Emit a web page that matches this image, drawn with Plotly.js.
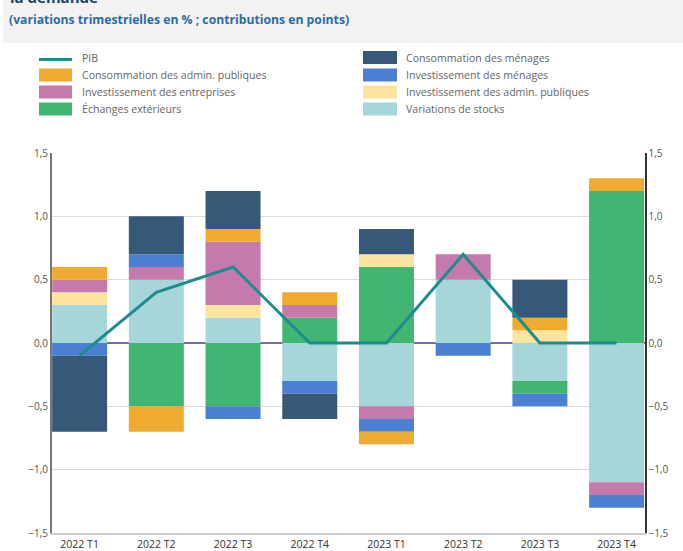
<!DOCTYPE html>
<html>
<head>
<meta charset="utf-8">
<script src="https://cdn.plot.ly/plotly-3.0.1.min.js"></script>
<style>html,body{margin:0;padding:0;background:#fff;}#chart{width:683px;height:551px;}</style>
</head>
<body>
<div id="chart"></div>
<script>
const quarters = ['2022 T1','2022 T2','2022 T3','2022 T4','2023 T1','2023 T2','2023 T3','2023 T4'];
const pib        = [-0.1, 0.4, 0.6, 0.0, 0.0, 0.7, 0.0, 0.0];
const stocks     = [0.3, 0.5, 0.2, -0.3, -0.5, 0.5, -0.3, -1.1];
const echanges   = [0.0, -0.5, -0.5, 0.2, 0.6, 0.0, -0.1, 1.2];
const invAdmin   = [0.1, 0.0, 0.1, 0.0, 0.1, 0.0, 0.1, 0.0];
const invEntr    = [0.1, 0.1, 0.5, 0.1, -0.1, 0.2, 0.0, -0.1];
const invMen     = [-0.1, 0.1, -0.1, -0.1, -0.1, -0.1, -0.1, -0.1];
const consoAdmin = [0.1, -0.2, 0.1, 0.1, -0.1, 0.0, 0.1, 0.1];
const consoMen   = [-0.6, 0.3, 0.3, -0.2, 0.2, 0.0, 0.3, 0.0];
const yTicks = [-1.5, -1.0, -0.5, 0.0, 0.5, 1.0, 1.5];

const font = '"Open Sans", "DejaVu Sans", sans-serif';
function bar(name, y, color) {
  return {type:'bar', name:name, x:quarters, y:y, marker:{color:color, line:{width:0}}, hoverinfo:'skip'};
}
const traces = [
  bar('Variations de stocks', stocks, '#a7d6da'),
  bar('Échanges extérieurs', echanges, '#41b572'),
  bar('Investissement des admin. publiques', invAdmin, '#fce3a0'),
  bar('Investissement des entreprises', invEntr, '#c679ad'),
  bar('Investissement des ménages', invMen, '#4b7fd2'),
  bar('Consommation des admin. publiques', consoAdmin, '#efab30'),
  bar('Consommation des ménages', consoMen, '#36597a'),
  {type:'scatter', mode:'lines', name:'PIB', x:quarters, y:pib, yaxis:'y2',
   line:{color:'#1f8b8c', width:3}, hoverinfo:'skip'}
];

const W = 593, H = 380, L = 52, T = 153;
const px = v => (v - L) / W;
const py = v => (T + H - v) / H;

// legend layout (two columns, row order as in the reference)
const legendOrder = [
  ['PIB', 'Consommation des admin. publiques', 'Investissement des entreprises', 'Échanges extérieurs'],
  ['Consommation des ménages', 'Investissement des ménages', 'Investissement des admin. publiques', 'Variations de stocks']
];
const colX = [[39, 72, 81], [363, 397, 405]];
const rowY = [57.5, 75, 92, 109];

const shapes = [
  {type:'rect', xref:'paper', yref:'paper', x0:px(3), x1:px(690), y0:py(43), y1:py(-10),
   fillcolor:'#f2f2f2', line:{width:0}, layer:'below'}
];
const annotations = [
  {xref:'paper', yref:'paper', x:px(8), y:py(-3), xanchor:'left', yanchor:'middle', showarrow:false,
   text:'<b>la demande</b>', font:{size:15, color:'#1d3f6e', family:font}},
  {xref:'paper', yref:'paper', x:px(7), y:py(20), xanchor:'left', yanchor:'middle', showarrow:false,
   text:'<b>(variations trimestrielles en % ; contributions en points)</b>',
   font:{size:12.2, color:'#2d6ca3', family:font}}
];
legendOrder.forEach((col, ci) => {
  col.forEach((name, ri) => {
    const tr = traces.find(t => t.name === name);
    const [x0, x1, tx] = colX[ci];
    const yc = rowY[ri];
    if (tr.type === 'scatter') {
      shapes.push({type:'line', xref:'paper', yref:'paper', x0:px(x0), x1:px(x1), y0:py(yc + 2), y1:py(yc + 2),
                   line:{color:tr.line.color, width:3}});
    } else {
      shapes.push({type:'rect', xref:'paper', yref:'paper', x0:px(x0), x1:px(x1), y0:py(yc + 6.5), y1:py(yc - 6.5),
                   fillcolor:tr.marker.color, line:{width:0}});
    }
    annotations.push({xref:'paper', yref:'paper', x:px(tx - 1), y:py(yc), xanchor:'left', yanchor:'middle',
                      showarrow:false, text:name, font:{size:10.6, color:'#666', family:font}});
  });
});

const layout = {
  width:683, height:551,
  margin:{l:52, r:38, t:153, b:18},
  paper_bgcolor:'#ffffff', plot_bgcolor:'#ffffff',
  font:{family:font, color:'#555'},
  separators:', ',
  barmode:'relative', bargap:0.283,
  showlegend:false,
  xaxis:{type:'category', range:[-0.36, 7.37], showgrid:false, zeroline:false,
         showline:true, linecolor:'#cfcfcf', linewidth:2, ticks:'',
         tickfont:{size:10.5, color:'#333', family:font}},
  yaxis:{range:[-1.5, 1.5], tickvals:yTicks, tickformat:'.1f', showgrid:true,
         gridcolor:'#dcdcdc', gridwidth:1.2, zeroline:true, zerolinecolor:'#7a6fa3',
         zerolinewidth:1.5, showline:true, linecolor:'#777', linewidth:2,
         ticks:'', tickfont:{size:10, color:'#555', family:font}},
  yaxis2:{range:[-1.5, 1.5], tickvals:yTicks, tickformat:'.1f', overlaying:'y', side:'right',
          showgrid:false, zeroline:false, showline:true, linecolor:'#333', linewidth:1.5,
          ticks:'', tickfont:{size:10, color:'#555', family:font}},
  shapes:shapes,
  annotations:annotations
};
Plotly.newPlot('chart', traces, layout, {displayModeBar:false, staticPlot:true});
</script>
</body>
</html>
